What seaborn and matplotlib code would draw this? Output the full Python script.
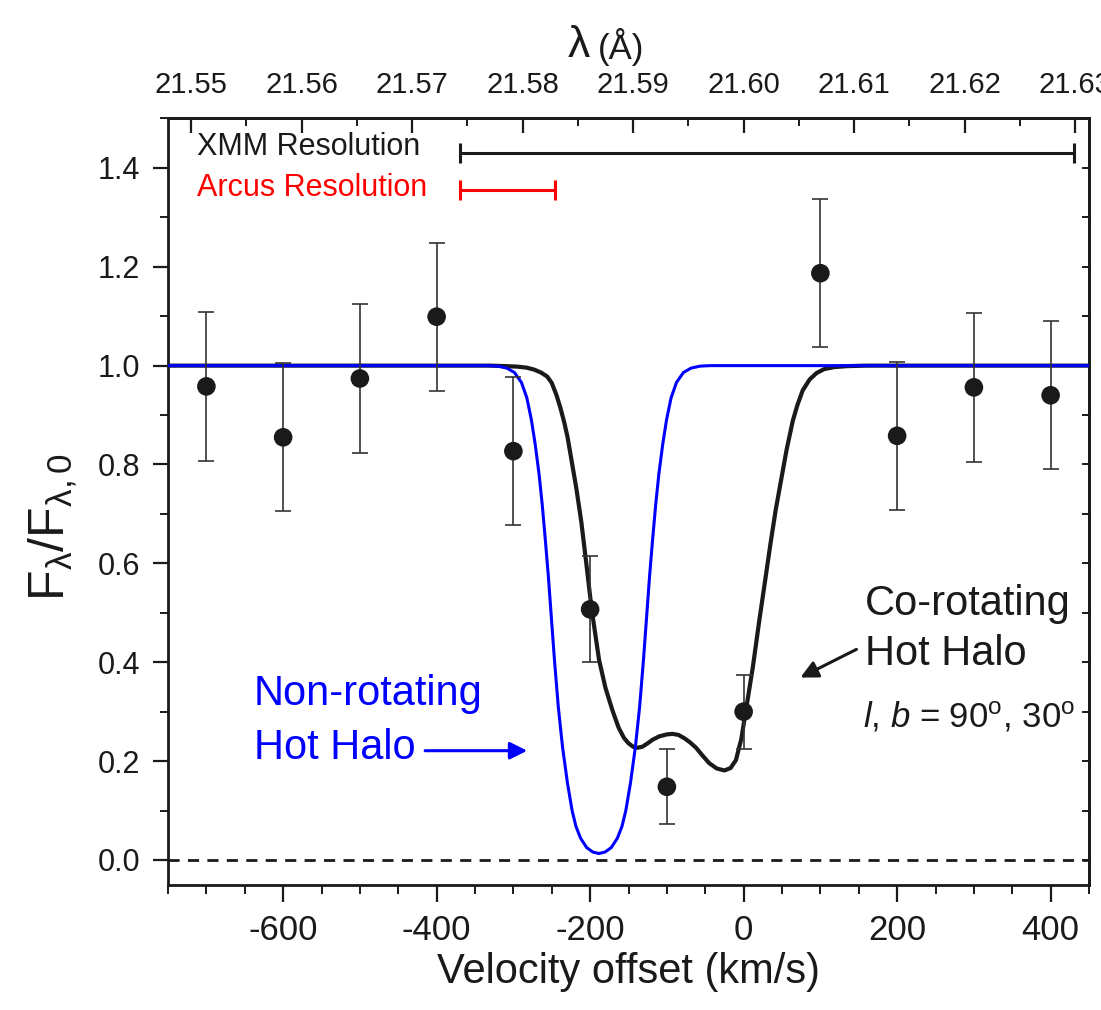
import numpy as np
import pandas as pd
import matplotlib
matplotlib.use('Agg')
import matplotlib.pyplot as plt
import seaborn as sns
from matplotlib.ticker import MultipleLocator, FormatStrFormatter

# measured points
vel_pts = [-700, -600, -500, -400, -300, -200, -100, 0, 100, 200, 300, 400]
flux_pts = [0.958, 0.855, 0.974, 1.099, 0.827, 0.507, 0.148, 0.300, 1.187, 0.858, 0.956, 0.940]
flux_err = [0.15, 0.15, 0.15, 0.15, 0.15, 0.107, 0.076, 0.075, 0.15, 0.15, 0.15, 0.15]

# non-rotating model
vel_blue = [-750, -333.5, -320.5, -308.5, -298.5, -289.5, -282.5, -276.5, -271.5, -266.5,
            -262.5, -258.5, -254.5, -250.5, -246.5, -241.5, -236, -229.5, -223.5, -218.5,
            -212.5, -204.5, -196.5, -188.5, -180.5, -172.5, -164.5, -158.5, -153.5, -147.5,
            -141, -135.5, -130.5, -126.5, -122.5, -118.5, -114.5, -110.5, -105.5, -100.5,
            -94.5, -87.5, -78.5, -68.5, -56.5, -43.5, 450]
flux_blue = [1.0, 1.0, 0.999, 0.995, 0.986, 0.966, 0.935, 0.89, 0.84, 0.78,
             0.72, 0.65, 0.575, 0.49, 0.405, 0.31, 0.229, 0.155, 0.100, 0.068,
             0.044, 0.025, 0.016, 0.013, 0.016, 0.025, 0.044, 0.068, 0.100, 0.155,
             0.229, 0.31, 0.405, 0.49, 0.575, 0.65, 0.72, 0.78, 0.84, 0.89,
             0.935, 0.966, 0.986, 0.995, 0.999, 1.0, 1.0]

# co-rotating model
vel_black = [-750, -330, -310, -295, -283, -273, -264, -256, -250, -244, -239, -234,
             -229.5, -225.4, -218, -211.5, -205, -198, -188.4, -180, -171, -163, -156,
             -150, -144, -138, -132, -125, -118.8, -110, -100, -92.7, -85, -77, -70,
             -62, -54, -45, -35, -25, -17, -10, -3, 3, 12, 20, 28, 35, 42, 49, 56, 64,
             70, 77, 86, 95, 105, 118, 135, 160, 450]
flux_black = [1.0, 1.0, 0.999, 0.998, 0.996, 0.992, 0.986, 0.978, 0.965, 0.941, 0.916, 0.887,
              0.856, 0.819, 0.752, 0.684, 0.60, 0.507, 0.405, 0.348, 0.303, 0.268, 0.247,
              0.236, 0.229, 0.227, 0.229, 0.236, 0.243, 0.250, 0.254, 0.255, 0.253, 0.246, 0.238,
              0.227, 0.212, 0.196, 0.185, 0.181, 0.186, 0.202, 0.245, 0.303, 0.39, 0.48,
              0.565, 0.64, 0.71, 0.77, 0.83, 0.888, 0.920, 0.950, 0.972, 0.985, 0.993, 0.997,
              0.999, 1.0, 1.0]

# resolution bars: centre, half width, height
xmm_bar = (30, 400, 1.43)
arcus_bar = (-308, 62, 1.355)


def to_lam(v):
    return 21.60 + np.asarray(v) / 14400.0


def to_vel(lam):
    return (np.asarray(lam) - 21.60) * 14400.0


sns.set_theme(style="ticks")
plt.rcParams['font.family'] = ['Liberation Sans', 'DejaVu Sans']
plt.rcParams['mathtext.fontset'] = 'custom'
plt.rcParams['mathtext.rm'] = 'Liberation Sans'
plt.rcParams['mathtext.it'] = 'Liberation Sans:italic'
plt.rcParams['axes.unicode_minus'] = False
for key in ['text.color', 'axes.labelcolor', 'xtick.color', 'ytick.color', 'axes.edgecolor']:
    plt.rcParams[key] = 'k'

fig = plt.figure(figsize=(11.01, 10.10), dpi=100)
ax = fig.add_axes([0.1526, 0.1241, 0.8365, 0.7586])

df_pts = pd.DataFrame({'v': vel_pts, 'f': flux_pts, 'e': flux_err})
df_blue = pd.DataFrame({'v': vel_blue, 'f': flux_blue})
df_black = pd.DataFrame({'v': vel_black, 'f': flux_black})

ax.axhline(0, color='k', lw=2.0, ls=(0, (4, 3)), zorder=1)
sns.lineplot(data=df_black, x='v', y='f', color='k', lw=3.0, sort=False,
             estimator=None, ax=ax, zorder=2)
sns.lineplot(data=df_blue, x='v', y='f', color='#0000ff', lw=2.2, sort=False,
             estimator=None, ax=ax, zorder=3)
ax.errorbar(df_pts['v'], df_pts['f'], yerr=df_pts['e'], fmt='none', ecolor='#333333',
            elinewidth=1.2, capsize=5.5, capthick=1.2, zorder=4)
sns.scatterplot(data=df_pts, x='v', y='f', color='k', s=180, edgecolor='none',
                ax=ax, zorder=5)

# resolution bars
ax.errorbar([xmm_bar[0]], [xmm_bar[2]], xerr=[xmm_bar[1]], fmt='none', ecolor='k',
            elinewidth=2.2, capsize=7, capthick=2.2)
ax.errorbar([arcus_bar[0]], [arcus_bar[2]], xerr=[arcus_bar[1]], fmt='none', ecolor='#ff0000',
            elinewidth=2.2, capsize=7, capthick=2.2)
ax.text(-712, 1.442, 'XMM Resolution', fontsize=22, color='k', va='center', ha='left')
ax.text(-712, 1.359, 'Arcus Resolution', fontsize=22, color='#ff0000', va='center', ha='left')

# annotations
ax.text(158, 0.496, 'Co-rotating', fontsize=30, color='k', va='baseline')
ax.text(158, 0.394, 'Hot Halo', fontsize=30, color='k', va='baseline')
ax.text(156, 0.267, r'$\mathit{l}$, $\mathit{b}$ = 90$^\mathrm{o}$, 30$^\mathrm{o}$',
        fontsize=25, color='k', va='baseline')
ax.annotate('', xy=(74, 0.369), xytext=(147, 0.426),
            arrowprops=dict(arrowstyle='-|>', color='k', lw=2.2, mutation_scale=26,
                            shrinkA=0, shrinkB=0))
ax.text(-638, 0.3136, 'Non-rotating', fontsize=30, color='#0000ff', va='baseline')
ax.text(-638, 0.204, 'Hot Halo', fontsize=30, color='#0000ff', va='baseline')
ax.annotate('', xy=(-282, 0.221), xytext=(-415, 0.221),
            arrowprops=dict(arrowstyle='-|>', color='#0000ff', lw=2.2, mutation_scale=26,
                            shrinkA=0, shrinkB=0))

ax.set_xlim(-750, 450)
ax.set_ylim(-0.05, 1.5)
ax.xaxis.set_major_locator(MultipleLocator(200))
ax.xaxis.set_minor_locator(MultipleLocator(50))
ax.yaxis.set_major_locator(MultipleLocator(0.2))
ax.yaxis.set_minor_locator(MultipleLocator(0.1))
ax.yaxis.set_major_formatter(FormatStrFormatter('%.1f'))

for s in ax.spines.values():
    s.set_linewidth(2.0)
    s.set_color('k')

ax.tick_params(axis='x', which='major', direction='out', length=12, width=1.6,
               labelsize=25, pad=9, colors='k', top=False)
ax.tick_params(axis='x', which='minor', direction='out', length=6.5, width=1.4, top=False)
ax.tick_params(axis='y', which='major', direction='out', length=11, width=1.6,
               labelsize=22, pad=9, colors='k', right=False)
ax.tick_params(axis='y', which='minor', direction='out', length=6, width=1.4, right=False)

ax.set_xlabel('Velocity offset (km/s)', fontsize=30, labelpad=4, color='k')
ax.set_ylabel(r'F$_\mathrm{λ}$/F$_\mathrm{λ,0}$', fontsize=36, color='k')
ax.yaxis.set_label_coords(-0.097, 0.467)

top = ax.secondary_xaxis('top', functions=(to_lam, to_vel))
top.set_xticks(np.round(np.arange(21.55, 21.6305, 0.01), 2))
top.xaxis.set_minor_locator(MultipleLocator(0.005))
top.xaxis.set_major_formatter(FormatStrFormatter('%.2f'))
top.tick_params(which='major', direction='in', length=11, width=1.6, labelsize=21, pad=14,
                colors='k')
top.tick_params(which='minor', direction='in', length=5.5, width=1.4)
top.spines['top'].set_linewidth(2.0)

right = ax.secondary_yaxis('right')
right.yaxis.set_major_locator(MultipleLocator(0.1))
right.tick_params(which='major', direction='in', length=5, width=1.4, labelright=False)
right.spines['right'].set_linewidth(2.0)

fig.text(0.536, 0.955, 'λ', fontsize=32, ha='right', va='center')
fig.text(0.543, 0.953, '(Å)', fontsize=25, ha='left', va='center')

fig.savefig('out.png', dpi=100)
